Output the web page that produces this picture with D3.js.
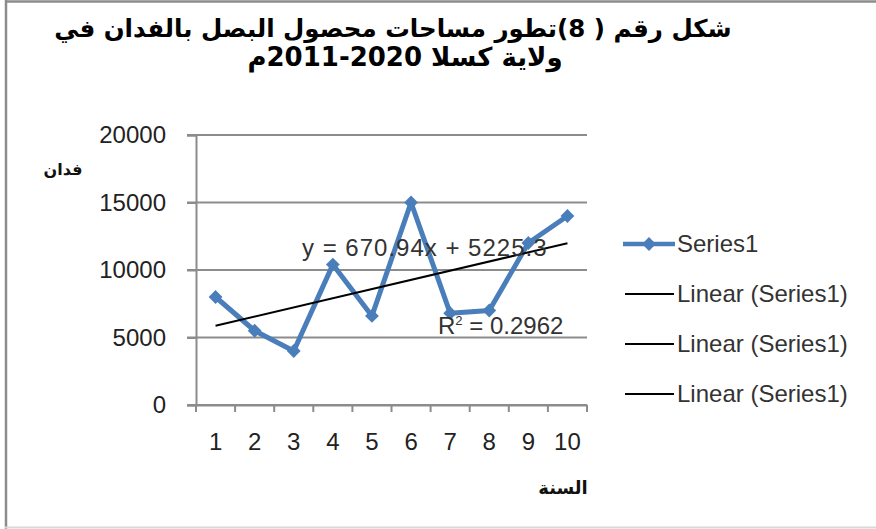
<!DOCTYPE html>
<html><head><meta charset="utf-8">
<script src="https://cdn.jsdelivr.net/npm/d3@7"></script>
<style>body{margin:0;background:#fff}svg{display:block}</style>
</head><body><svg id="c" width="876" height="529"></svg>
<script>
const titleLines = ["شكل رقم  ( 8)تطور مساحات محصول البصل بالفدان في", "ولاية كسلا 2020-2011م"];
const categories = [1,2,3,4,5,6,7,8,9,10];
const values = [8000,5500,4000,10400,6600,15000,6800,7000,12000,14000];
const yTicks = [0,5000,10000,15000,20000];
const seriesName = "Series1";
const trendNames = ["Linear (Series1)","Linear (Series1)","Linear (Series1)"];
const equationLabel = "y = 670.94x + 5225.3";
const r2Base = "R", r2Sup = "2", r2Rest = " = 0.2962";
const yTitle = "فدان", xTitle = "السنة";

const svg = d3.select("#c");
const latin = "'Liberation Sans', Arial, sans-serif";
const arab = "'DejaVu Sans', sans-serif";
const blue = "#4a7ebb";

// frame: dark left/top edges, light bottom edge
svg.append("line").attr("x1",6).attr("x2",6).attr("y1",0).attr("y2",529).attr("stroke","#8c8c8c").attr("stroke-width",2.5);
svg.append("line").attr("x1",5).attr("x2",876).attr("y1",1.5).attr("y2",1.5).attr("stroke","#8c8c8c").attr("stroke-width",2.5);
svg.append("line").attr("x1",5).attr("x2",876).attr("y1",527.5).attr("y2",527.5).attr("stroke","#d8d8d8").attr("stroke-width",2);

// title
svg.selectAll("text.title").data(titleLines).join("text").attr("class","title")
  .attr("x",(d,i)=> i===0 ? 393 : 405).attr("y",(d,i)=> i===0 ? 37 : 66)
  .attr("text-anchor","middle").attr("direction","rtl")
  .attr("font-family",arab).attr("font-weight","bold")
  .attr("font-size",(d,i)=> i===0 ? 24.5 : 26)
  .attr("fill","#000").text(d=>d);

const x = d3.scaleBand().domain(categories).range([196,587]);
const y = d3.scaleLinear().domain([0,20000]).range([405,135]);

// gridlines
svg.append("g").selectAll("line").data(yTicks).join("line")
  .attr("x1",187).attr("x2",587).attr("y1",d=>y(d)).attr("y2",d=>y(d))
  .attr("stroke","#8c8c8c").attr("stroke-width",2);

// y axis
const yAxis = svg.append("g").attr("transform","translate(196,0)")
  .call(d3.axisLeft(y).tickValues(yTicks).tickSize(9).tickPadding(21).tickFormat(d3.format("d")));
yAxis.select(".domain").attr("stroke","#8c8c8c").attr("stroke-width",2);
yAxis.selectAll(".tick line").attr("stroke","#8c8c8c").attr("stroke-width",2);
yAxis.selectAll("text").attr("font-family",latin).attr("font-size",24).attr("fill","#222");

// x axis
const xAxis = svg.append("g").attr("transform","translate(0,405)")
  .call(d3.axisBottom(x).tickSize(0).tickPadding(28));
xAxis.select(".domain").attr("stroke","#8c8c8c").attr("stroke-width",2);
xAxis.selectAll("text").attr("font-family",latin).attr("font-size",24).attr("fill","#222");
const bounds = categories.map(c=>x(c)).concat([x(categories[categories.length-1])+x.bandwidth()]);
svg.append("g").selectAll("line").data(bounds).join("line")
  .attr("x1",d=>d).attr("x2",d=>d).attr("y1",405).attr("y2",412)
  .attr("stroke","#8c8c8c").attr("stroke-width",2);

const cx = c => x(c)+x.bandwidth()/2;

// series
svg.append("path").datum(values)
  .attr("d", d3.line().x((d,i)=>cx(categories[i])).y(d=>y(d)))
  .attr("fill","none").attr("stroke",blue).attr("stroke-width",5).attr("stroke-linejoin","round");
const diamond = d3.symbol(d3.symbolSquare).size(95);
svg.append("g").selectAll("path").data(values).join("path")
  .attr("d",diamond)
  .attr("transform",(d,i)=>`translate(${cx(categories[i])},${y(d)}) rotate(45)`)
  .attr("fill",blue);

// trend (least squares)
const n = values.length;
const mx = d3.mean(categories), my = d3.mean(values);
const slope = d3.sum(categories,(c,i)=>(c-mx)*(values[i]-my))/d3.sum(categories,c=>(c-mx)**2);
const icpt = my - slope*mx;
const tEnds = [categories[0], categories[n-1]];
svg.append("path").datum(tEnds)
  .attr("d", d3.line().x(c=>cx(c)).y(c=>y(icpt+slope*c)))
  .attr("stroke","#000").attr("stroke-width",2);

// labels
svg.append("text").attr("x",302).attr("y",256).attr("font-family",latin).attr("font-size",24)
  .attr("letter-spacing",1).attr("fill","#333").text(equationLabel);
const r2 = svg.append("text").attr("x",438).attr("y",334).attr("font-family",latin).attr("font-size",24).attr("fill","#333");
r2.append("tspan").text(r2Base);
r2.append("tspan").attr("dy",-9).attr("font-size",13).text(r2Sup);
r2.append("tspan").attr("dy",9).text(r2Rest);

// axis titles
svg.append("text").attr("x",63).attr("y",175).attr("text-anchor","middle")
  .attr("font-family",arab).attr("font-weight","bold").attr("font-size",16).attr("fill","#111").text(yTitle);
svg.append("text").attr("x",563).attr("y",494).attr("text-anchor","middle")
  .attr("font-family",arab).attr("font-weight","bold").attr("font-size",18).attr("fill","#111").text(xTitle);

// legend
const lg = svg.append("g");
const ly = i => 244 + i*50;
lg.append("line").attr("x1",623).attr("x2",675).attr("y1",ly(0)).attr("y2",ly(0))
  .attr("stroke",blue).attr("stroke-width",4.5);
lg.append("path").attr("d",diamond).attr("transform",`translate(649,${ly(0)}) rotate(45)`).attr("fill",blue);
lg.append("text").attr("x",677).attr("y",ly(0)).attr("dy","0.35em").attr("font-family",latin)
  .attr("font-size",24).attr("fill","#333").text(seriesName);
trendNames.forEach((t,i)=>{
  lg.append("line").attr("x1",625).attr("x2",674).attr("y1",ly(i+1)).attr("y2",ly(i+1))
    .attr("stroke","#000").attr("stroke-width",2);
  lg.append("text").attr("x",677).attr("y",ly(i+1)).attr("dy","0.35em").attr("font-family",latin)
    .attr("font-size",24).attr("fill","#333").text(t);
});
</script></body></html>
